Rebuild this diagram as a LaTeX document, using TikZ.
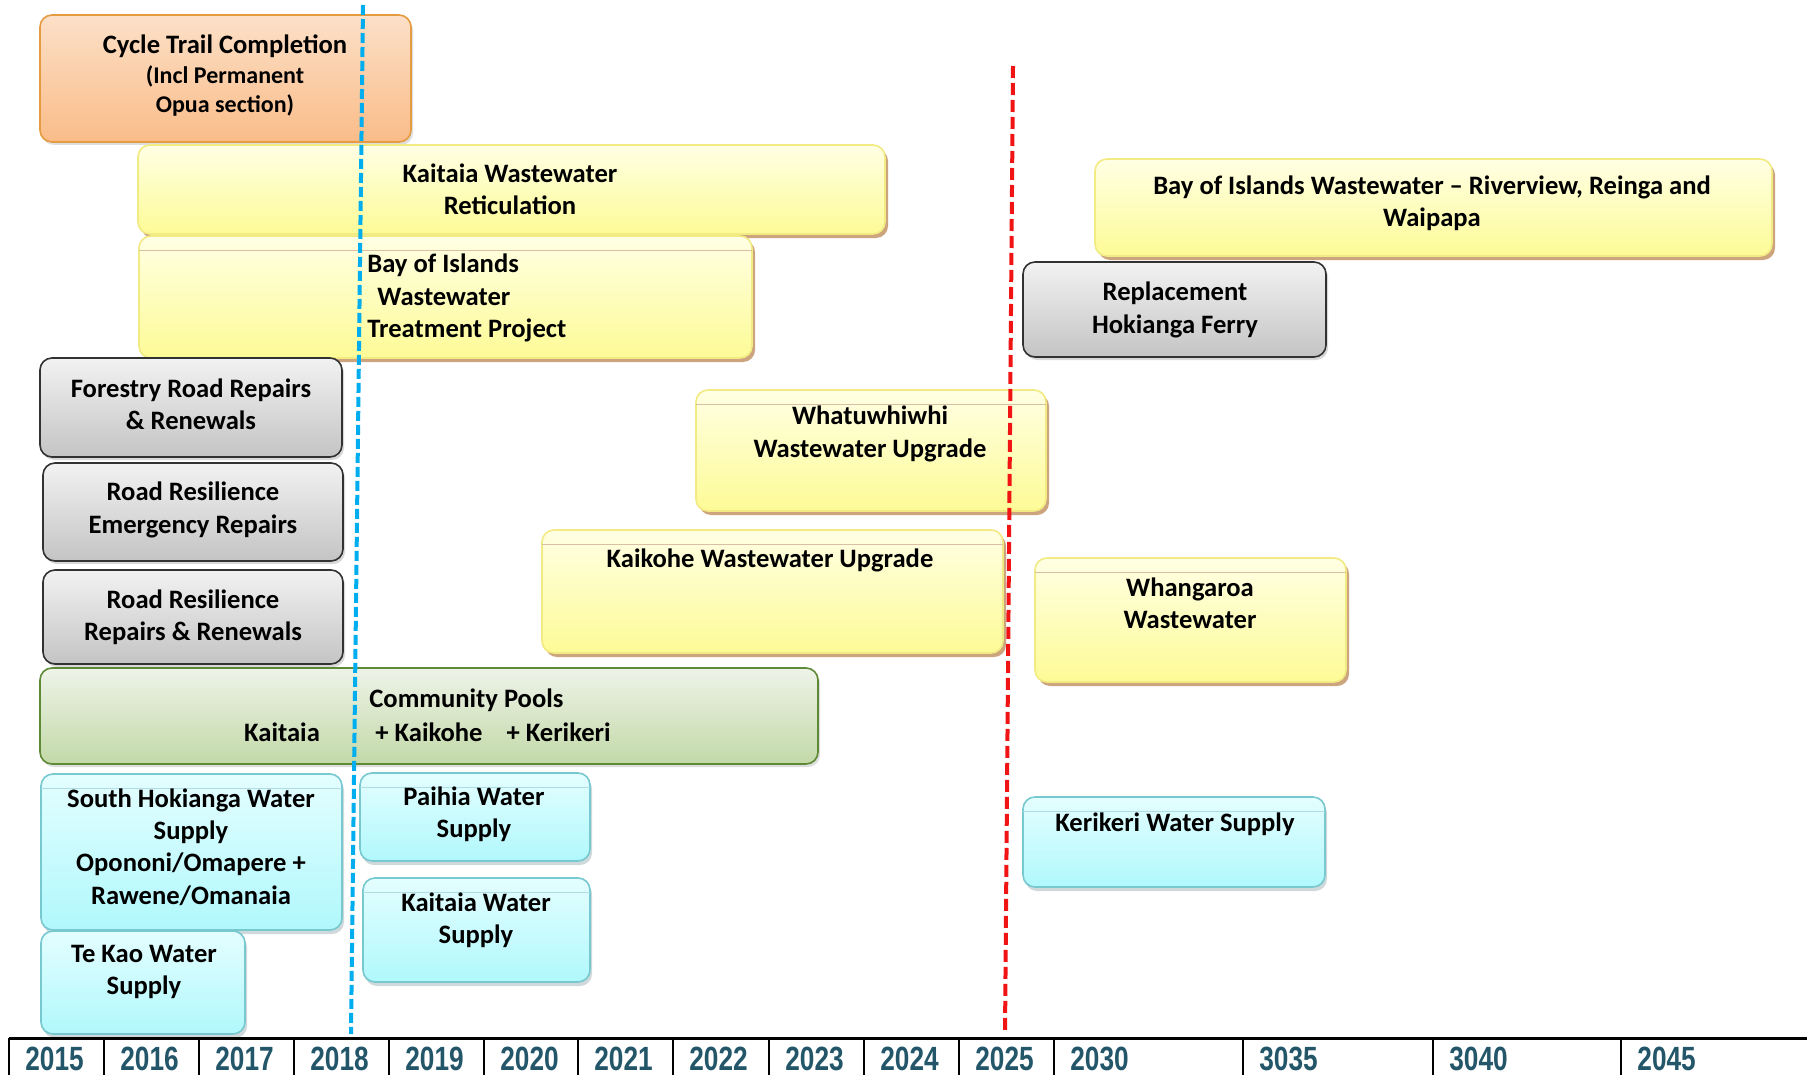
\documentclass[tikz,border=0pt]{standalone}
\usepackage{fontspec}
\setmainfont{Carlito}
\newfontfamily\axisfont{Liberation Sans}[FakeStretch=0.78]
\usetikzlibrary{shadows}
\definecolor{orTop}{RGB}{252,224,200}
\definecolor{orBot}{RGB}{250,188,136}
\definecolor{orLine}{RGB}{229,155,64}
\definecolor{yeTop}{RGB}{255,255,228}
\definecolor{yeBot}{RGB}{253,251,150}
\definecolor{yeLine}{RGB}{242,234,130}
\definecolor{yeShad}{RGB}{204,164,126}
\definecolor{grTop}{RGB}{242,242,242}
\definecolor{grBot}{RGB}{196,196,196}
\definecolor{grLine}{RGB}{50,50,50}
\definecolor{gnTop}{RGB}{238,243,232}
\definecolor{gnBot}{RGB}{194,217,168}
\definecolor{gnLine}{RGB}{95,138,53}
\definecolor{cyTop}{RGB}{228,254,255}
\definecolor{cyBot}{RGB}{176,248,252}
\definecolor{cyLine}{RGB}{120,200,208}
\definecolor{cyShad}{RGB}{160,180,184}
\definecolor{yearCol}{RGB}{36,86,106}
\definecolor{blueDash}{RGB}{0,174,239}
\definecolor{redDash}{RGB}{240,20,20}
\tikzset{
  basebox/.style={rounded corners=6pt, inner sep=0pt, outer sep=0pt, line width=0.8pt},
  obox/.style={basebox, top color=orTop, bottom color=orBot, draw=orLine,
    drop shadow={shadow xshift=1pt, shadow yshift=-1.5pt, fill=black!25}},
  ybox/.style={basebox, top color=yeTop, bottom color=yeBot, draw=yeLine,
    drop shadow={shadow xshift=1.5pt, shadow yshift=-2pt, fill=yeShad, opacity=1}},
  gbox/.style={basebox, top color=grTop, bottom color=grBot, draw=grLine,
    drop shadow={shadow xshift=1pt, shadow yshift=-1.5pt, fill=black!30}},
  gnbox/.style={basebox, top color=gnTop, bottom color=gnBot, draw=gnLine,
    drop shadow={shadow xshift=1pt, shadow yshift=-1.5pt, fill=black!25}},
  cbox/.style={basebox, top color=cyTop, bottom color=cyBot, draw=cyLine,
    drop shadow={shadow xshift=1pt, shadow yshift=-2pt, fill=cyShad}},
  yhl/.style={draw=yeShad!70, line width=0.4pt},
  chl/.style={draw=cyLine!60, line width=0.4pt},
  lbl/.style={font=\bfseries\fontsize{13.3}{16.2}\selectfont, align=center, inner sep=0pt, text=black},
  slbl/.style={font=\bfseries\fontsize{12}{14.5}\selectfont, align=center, inner sep=0pt, text=black},
  yearlbl/.style={font=\axisfont\bfseries\fontsize{16.8}{18}\selectfont, inner sep=0pt, text=yearCol},
  axisline/.style={line width=1.5pt, black},
  sepline/.style={line width=1pt, black},
  bluedash/.style={draw=blueDash, line width=2pt, dash pattern=on 5pt off 2pt},
  reddash/.style={draw=redDash, line width=2pt, dash pattern=on 6pt off 2.5pt}
}
\newcommand\taskbox[6]{%
  \node[#6, minimum width={(#4-#2)*0.5pt}, minimum height={(#5-#3)*0.5pt}] (#1) at ({(#2+#4)/2},{(#3+#5)/2}) {};}
\begin{document}
\begin{tikzpicture}[x=0.5pt,y=-0.5pt]
\useasboundingbox[fill=white] (0,0) rectangle (1807,1075);

% boxes
\taskbox{cycle}{40}{15}{411}{142}{obox}
\taskbox{kwr}{138}{145}{885}{234}{ybox}
\taskbox{boiwt}{139}{236}{752}{358}{ybox}
\taskbox{forest}{40}{358}{342}{457}{gbox}
\taskbox{rremg}{43}{463}{343}{561}{gbox}
\taskbox{rrrep}{43}{570}{343}{664}{gbox}
\taskbox{pools}{40}{668}{818}{764}{gnbox}
\taskbox{shws}{41}{774}{342}{930}{cbox}
\taskbox{tekao}{41}{931}{245}{1034}{cbox}
\taskbox{paihia}{360}{773}{590}{861}{cbox}
\taskbox{kws}{363}{878}{590}{982}{cbox}
\taskbox{whatu}{696}{390}{1046}{511}{ybox}
\taskbox{kaikohe}{542}{530}{1003}{653}{ybox}
\taskbox{boirv}{1095}{159}{1772}{256}{ybox}
\taskbox{ferry}{1023}{262}{1326}{357}{gbox}
\taskbox{whanga}{1035}{558}{1346}{682}{ybox}
\taskbox{keri}{1023}{797}{1325}{887}{cbox}

% faint highlight lines near box tops
\draw[yhl] ([yshift=-7pt]boiwt.north west) -- ([yshift=-7pt]boiwt.north east);
\draw[yhl] ([yshift=-7pt]whatu.north west) -- ([yshift=-7pt]whatu.north east);
\draw[yhl] ([yshift=-7pt]kaikohe.north west) -- ([yshift=-7pt]kaikohe.north east);
\draw[yhl] ([yshift=-7pt]whanga.north west) -- ([yshift=-7pt]whanga.north east);
\draw[chl] ([yshift=-7pt]keri.north west) -- ([yshift=-7pt]keri.north east);
\draw[chl] ([yshift=-7pt]paihia.north west) -- ([yshift=-7pt]paihia.north east);
\draw[chl] ([yshift=-7pt]kws.north west) -- ([yshift=-7pt]kws.north east);
\draw[chl] ([yshift=-7pt]shws.north west) -- ([yshift=-7pt]shws.north east);

% texts
\node[lbl] (tcycle1) at (225,46) {Cycle Trail Completion};
\node[slbl] (tcycle2) at (225,90.5) {(Incl Permanent\\Opua section)};
\node[lbl] (tkwr) at (510,189) {Kaitaia Wastewater\\Reticulation};
\node[lbl, align=left, anchor=west] (tboiwt) at (367,298) {Bay of Islands\\\hspace*{5pt}Wastewater\\Treatment Project};
\node[lbl] (tforest) at (191,404.5) {Forestry Road Repairs\\\& Renewals};
\node[lbl] (trremg) at (193,510) {Road Resilience\\Emergency Repairs};
\node[lbl] (trrrep) at (193,617) {Road Resilience\\Repairs \& Renewals};
\node[lbl, anchor=west] (tpools1) at (369,700) {Community Pools};
\node[lbl] (tpools2) at (282,732) {Kaitaia};
\node[lbl, anchor=west] (tpools3) at (375,732) {+ Kaikohe\hspace{12pt}+ Kerikeri};
\node[lbl] (tshws) at (191,847) {South Hokianga Water\\Supply\\Opononi/Omapere +\\Rawene/Omanaia};
\node[lbl] (ttekao) at (144,972) {Te Kao Water\\Supply};
\node[lbl] (tpaihia) at (474,814) {Paihia Water\\Supply};
\node[lbl] (tkws) at (476,920) {Kaitaia Water\\Supply};
\node[lbl] (twhatu) at (870,434) {Whatuwhiwhi\\Wastewater Upgrade};
\node[lbl] (tkaikohe) at (770,560) {Kaikohe Wastewater Upgrade};
\node[lbl] (tboirv) at (1432,203) {Bay of Islands Wastewater -- Riverview, Reinga and\\Waipapa};
\node[lbl] (tferry) at (1175,310) {Replacement\\Hokianga Ferry};
\node[lbl] (twhanga) at (1190,603) {Whangaroa\\Wastewater};
\node[lbl] (tkeri) at (1175,824) {Kerikeri Water Supply};

% time axis
\coordinate (axL) at (9,1038);
\coordinate (axR) at (1807,1038);
\draw[axisline] (axL) -- (axR);
\foreach \x/\t in {9/2015,104/2016,199/2017,294/2018,389/2019,484/2020,578/2021,673/2022,769/2023,864/2024,959/2025,1054/2030,1243/3035,1433/3040,1621/2045}{
  \draw[sepline] (\x,1038) -- (\x,1075);
  \node[yearlbl, anchor=base west] (y\t) at (\x+16,1070) {\t};
}

% milestone dashed lines
\coordinate (blueTop) at (363,5);
\coordinate (blueBot) at (351,1034);
\draw[bluedash] (blueTop) -- (blueBot);
\coordinate (redTop) at (1013,66);
\coordinate (redBot) at (1005,1034);
\draw[reddash] (redTop) -- (redBot);
\end{tikzpicture}
\end{document}
